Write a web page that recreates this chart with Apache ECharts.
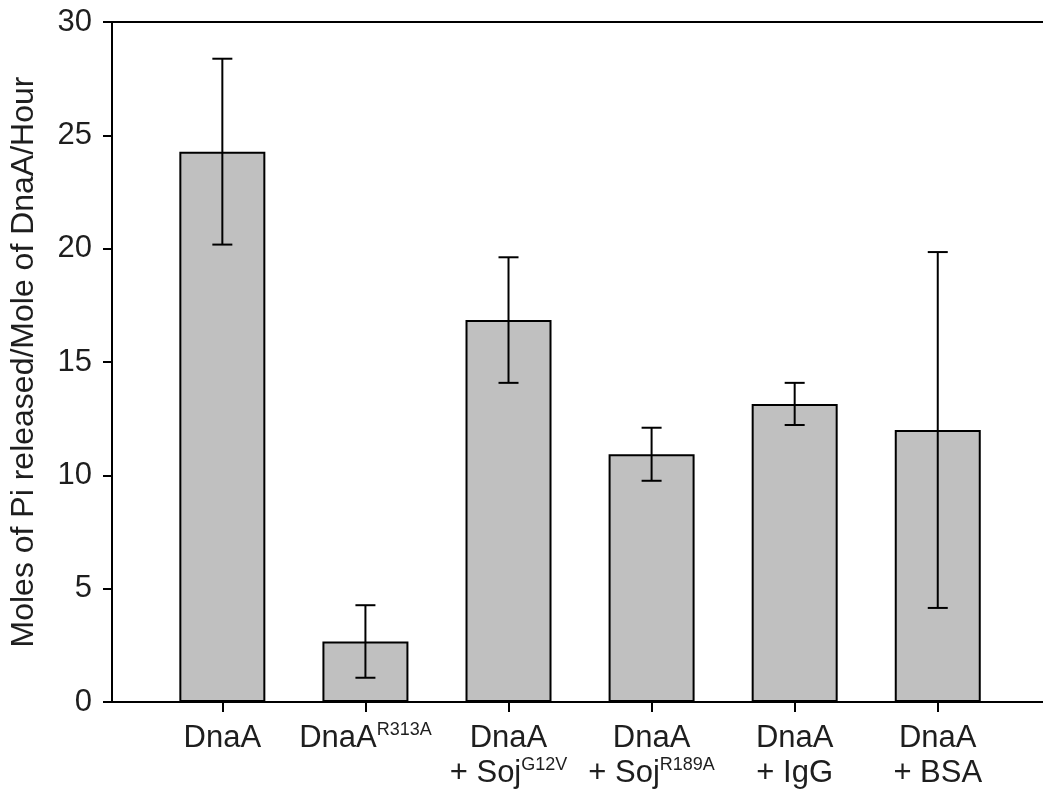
<!DOCTYPE html>
<html lang="en">
<head>
    <meta charset="UTF-8">
    <title>DnaA ATPase</title>
    <script src="https://cdn.jsdelivr.net/npm/echarts@6/dist/echarts.min.js"></script>
</head>
<style>
    *{
        margin: 0;
        padding: 0;
    }
    html, body{
        overflow: hidden;
        height: 100%;
        width: 100%;
        background: #fff;
    }
    .contain{
        height: 798px;
        width: 1043px;
    }
</style>
<body>
<div class="contain"></div>
<script>
    // 标签: 主名称, 第二行, 上标
    let mainNames = ['DnaA', 'DnaA', 'DnaA', 'DnaA', 'DnaA', 'DnaA'];
    let supMain = ['', 'R313A', '', '', '', ''];
    let secondLine = ['', '', '+ Soj', '+ Soj', '+ IgG', '+ BSA'];
    let supSecond = ['', '', 'G12V', 'R189A', '', ''];
    let categories = ['DnaA', 'DnaA R313A', 'DnaA + Soj G12V', 'DnaA + Soj R189A', 'DnaA + IgG', 'DnaA + BSA'];

    let means = [24.28, 2.67, 16.85, 10.93, 13.15, 12.0];
    let errors = [4.1, 1.6, 2.77, 1.17, 0.93, 7.85];

    let yTicks = [0, 5, 10, 15, 20, 25, 30];

    let chart = echarts.init(document.querySelector('.contain'));

    let font = 'Liberation Sans, Arial, sans-serif';
    let textColor = '#1e1e1e';

    let errData = means.map((m, i) => [i, m - errors[i], m + errors[i]]);

    function labelText(value, idx) {
        let s = '{m|' + mainNames[idx] + '}';
        if (supMain[idx]) s += '{s|' + supMain[idx] + '}';
        if (secondLine[idx]) {
            s += '\n{m|' + secondLine[idx] + '}';
            if (supSecond[idx]) s += '{s|' + supSecond[idx] + '}';
        }
        return s;
    }

    let option = {
        animation: false,
        grid: [
            {left: 107, right: 0, top: 22, bottom: 96},
            {left: 150.8, right: 33.7, top: 22, bottom: 96}
        ],
        xAxis: [
            {
                type: 'value', gridIndex: 0, position: 'bottom', min: 0, max: 1,
                axisLine: {lineStyle: {color: '#000', width: 2}},
                axisTick: {show: false}, axisLabel: {show: false}, splitLine: {show: false}
            },
            {
                type: 'value', gridIndex: 0, position: 'top', min: 0, max: 1,
                axisLine: {lineStyle: {color: '#000', width: 2}},
                axisTick: {show: false}, axisLabel: {show: false}, splitLine: {show: false}
            },
            {
                type: 'category', gridIndex: 1, data: categories,
                axisLine: {show: false},
                axisTick: {show: true, alignWithLabel: true, length: 10, lineStyle: {color: '#000', width: 2}},
                axisLabel: {
                    interval: 0,
                    margin: 19,
                    formatter: labelText,
                    rich: {
                        m: {fontSize: 31, fontFamily: font, color: textColor, lineHeight: 35},
                        s: {fontSize: 18, fontFamily: font, color: textColor, lineHeight: 18, verticalAlign: 'top'}
                    }
                }
            }
        ],
        yAxis: [
            {
                type: 'value', gridIndex: 0, min: yTicks[0], max: yTicks[yTicks.length - 1], interval: 5,
                name: 'Moles of Pi released/Mole of DnaA/Hour',
                nameLocation: 'middle',
                nameGap: 72,
                nameTextStyle: {fontSize: 32, fontFamily: font, color: textColor},
                axisLine: {show: true, lineStyle: {color: '#000', width: 2}},
                axisTick: {show: true, length: 9, lineStyle: {color: '#000', width: 2}},
                axisLabel: {fontSize: 31, fontFamily: font, color: textColor, margin: 20},
                splitLine: {show: false}
            },
            {
                type: 'value', gridIndex: 1, min: 0, max: 30,
                axisLine: {show: false}, axisTick: {show: false}, axisLabel: {show: false}, splitLine: {show: false}
            }
        ],
        series: [
            {
                type: 'bar',
                xAxisIndex: 2,
                yAxisIndex: 1,
                data: means,
                barWidth: 86,
                itemStyle: {color: '#c0c0c0', borderColor: '#000', borderWidth: 2}
            },
            {
                type: 'custom',
                xAxisIndex: 2,
                yAxisIndex: 1,
                data: errData,
                z: 5,
                renderItem: function (params, api) {
                    let lo = api.coord([api.value(0), api.value(1)]);
                    let hi = api.coord([api.value(0), api.value(2)]);
                    let half = 10;
                    let style = {stroke: '#000', lineWidth: 2};
                    return {
                        type: 'group',
                        children: [
                            {type: 'line', shape: {x1: hi[0], y1: hi[1], x2: lo[0], y2: lo[1]}, style},
                            {type: 'line', shape: {x1: hi[0] - half, y1: hi[1], x2: hi[0] + half, y2: hi[1]}, style},
                            {type: 'line', shape: {x1: lo[0] - half, y1: lo[1], x2: lo[0] + half, y2: lo[1]}, style}
                        ]
                    };
                }
            }
        ]
    };

    chart.setOption(option);
</script>
</body>
</html>
